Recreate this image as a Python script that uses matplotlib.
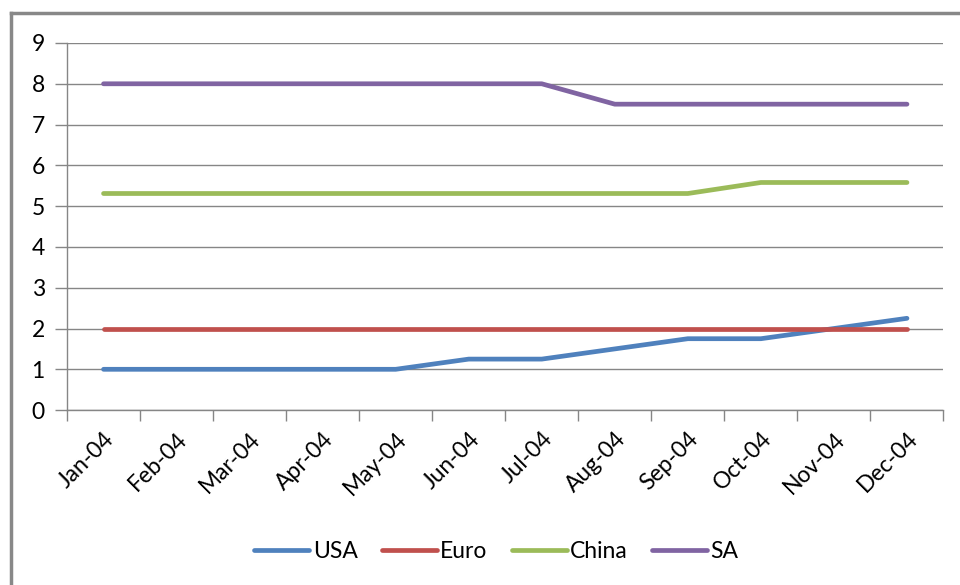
import numpy as np
import matplotlib.pyplot as plt
from matplotlib.lines import Line2D

plt.rcParams['font.family'] = ['Lato', 'DejaVu Sans']

# data
months = ["Jan-04", "Feb-04", "Mar-04", "Apr-04", "May-04", "Jun-04",
          "Jul-04", "Aug-04", "Sep-04", "Oct-04", "Nov-04", "Dec-04"]
usa = [1.0, 1.0, 1.0, 1.0, 1.0, 1.25, 1.25, 1.5, 1.75, 1.75, 2.0, 2.25]
euro = [2.0] * 12
china = [5.31, 5.31, 5.31, 5.31, 5.31, 5.31, 5.31, 5.31, 5.31, 5.58, 5.58, 5.58]
sa = [8.0, 8.0, 8.0, 8.0, 8.0, 8.0, 8.0, 7.5, 7.5, 7.5, 7.5, 7.5]

series = [("USA", usa, "#4F81BD"), ("Euro", euro, "#C0504D"),
          ("China", china, "#9BBB59"), ("SA", sa, "#8064A2")]

fig = plt.figure(figsize=(9.6, 5.85), dpi=100)
ax = fig.add_axes([0.0698, 0.299, 0.913, 0.6275])

x = np.arange(len(months))
for name, vals, col in series:
    ax.plot(x, vals, color=col, linewidth=3.4, label=name, solid_capstyle="round")

ax.set_xlim(-0.5, len(months) - 0.5)
ax.set_ylim(0, 9)
ax.set_yticks(range(0, 10))
ax.grid(axis="y", color="#868686", linewidth=1)
ax.set_axisbelow(True)

ax.set_xticks(x)
ax.set_xticklabels(months, rotation=45, ha="right", rotation_mode="anchor")
ax.set_xticks(np.arange(-0.5, len(months)), minor=True)
ax.tick_params(axis="x", which="major", length=0, pad=13, labelsize=16.5)
ax.tick_params(axis="x", which="minor", length=8, color="#868686", width=1)
ax.tick_params(axis="y", length=9, color="#868686", width=1, labelsize=16.5, pad=7)

for s in ["top", "right"]:
    ax.spines[s].set_visible(False)
for s in ["left", "bottom"]:
    ax.spines[s].set_color("#868686")
    ax.spines[s].set_linewidth(1)

ax.legend(loc="center", bbox_to_anchor=(0.517, 0.058), bbox_transform=fig.transFigure,
          ncol=4, frameon=False, fontsize=16.5, handlelength=2.4, handletextpad=0.15,
          columnspacing=1.05)

# chart area border (left and top edges visible)
fig.add_artist(Line2D([11 / 960, 11 / 960], [0, 1 - 13 / 585], color="#888888", linewidth=2.5,
                      transform=fig.transFigure))
fig.add_artist(Line2D([11 / 960, 1], [1 - 13 / 585, 1 - 13 / 585], color="#888888", linewidth=2.5,
                      transform=fig.transFigure))

fig.savefig("out.png", dpi=100)
